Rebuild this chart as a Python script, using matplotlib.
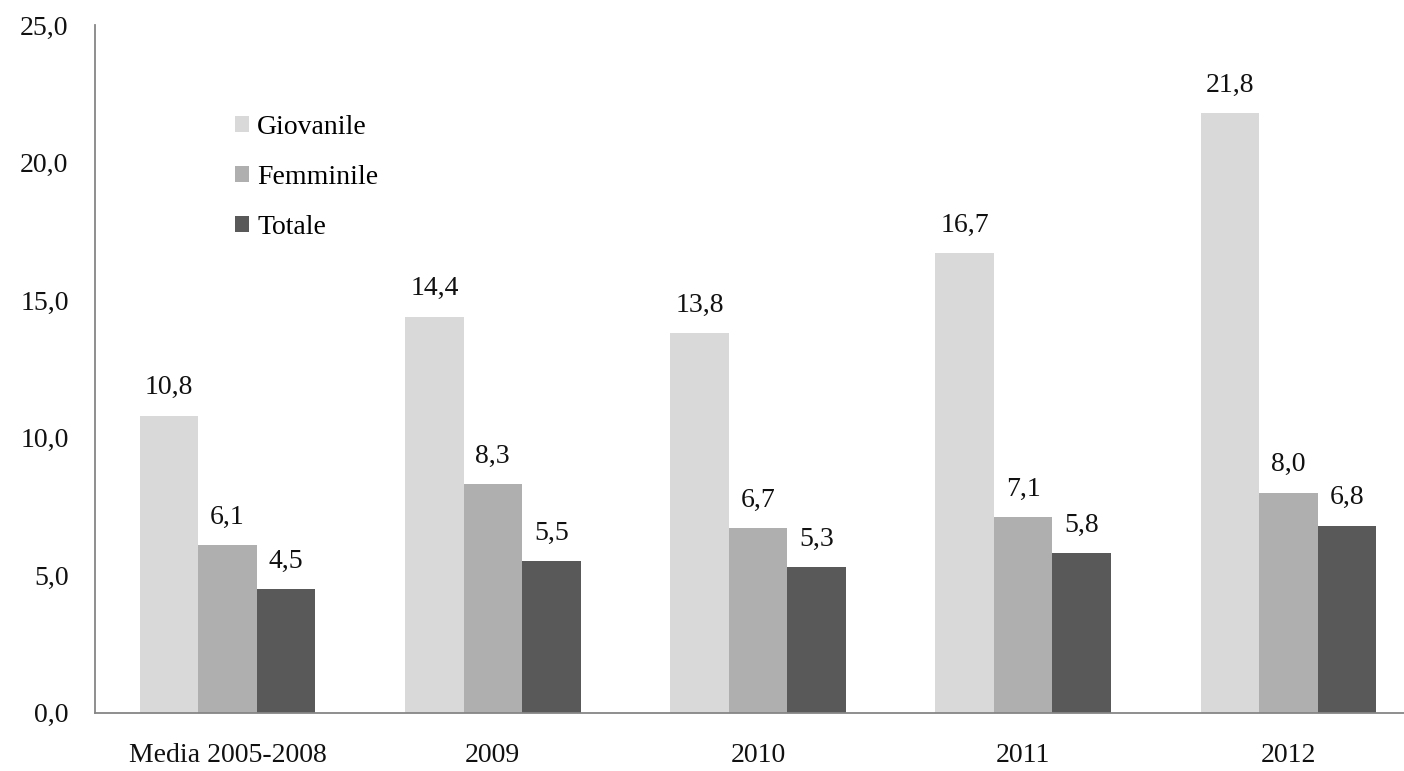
import matplotlib.pyplot as plt
import numpy as np

# categories and series values (tasso, %)
categorie = ['Media 2005-2008', '2009', '2010', '2011', '2012']
giovanile = [10.8, 14.4, 13.8, 16.7, 21.8]
femminile = [6.1, 8.3, 6.7, 7.1, 8.0]
totale = [4.5, 5.5, 5.3, 5.8, 6.8]
yticks = [0, 5, 10, 15, 20, 25]

plt.rcParams['font.family'] = ['Liberation Serif', 'DejaVu Serif']

fig = plt.figure(figsize=(14.04, 7.71), dpi=100)
# axes run past the right edge like the original (cropped) chart
ax = fig.add_axes([95/1404, 58.3/771, 1326/1404, 687.7/771])

x = np.arange(len(categorie))
w = 0.2205
b1 = ax.bar(x - w, giovanile, w, color='#d9d9d9', label='Giovanile')
b2 = ax.bar(x, femminile, w, color='#afafaf', label='Femminile')
b3 = ax.bar(x + w, totale, w, color='#595959', label='Totale')

def fmt(v):
    return ('%.1f' % v).replace('.', ',')

for bars in (b1, b2, b3):
    for r in bars:
        h = r.get_height()
        ax.annotate(fmt(h), xy=(r.get_x() + r.get_width()/2, h), xytext=(0, 11),
                    textcoords='offset points', ha='center', va='bottom',
                    fontsize=20, color='#111111')

ax.set_xlim(-0.5, len(categorie) - 0.5)
ax.set_ylim(0, 25)
ax.set_yticks(yticks)
ax.set_yticklabels([fmt(v) for v in yticks])
ax.set_xticks(x)
ax.set_xticklabels(categorie)
ax.tick_params(axis='y', length=0, pad=19, labelsize=20, labelcolor='#111111')
ax.tick_params(axis='x', length=0, pad=22, labelsize=20, labelcolor='#111111')

for s in ('top', 'right'):
    ax.spines[s].set_visible(False)
for s in ('left', 'bottom'):
    ax.spines[s].set_color('#868686')
    ax.spines[s].set_linewidth(1.3)

leg = ax.legend(loc='upper left', bbox_to_anchor=(221/1404, 1 - 101/771),
                bbox_transform=fig.transFigure, frameon=False, fontsize=20,
                handlelength=0.5, handleheight=0.5, handletextpad=0.3,
                labelspacing=0.9, borderpad=0)

plt.savefig('out.png', dpi=100)
